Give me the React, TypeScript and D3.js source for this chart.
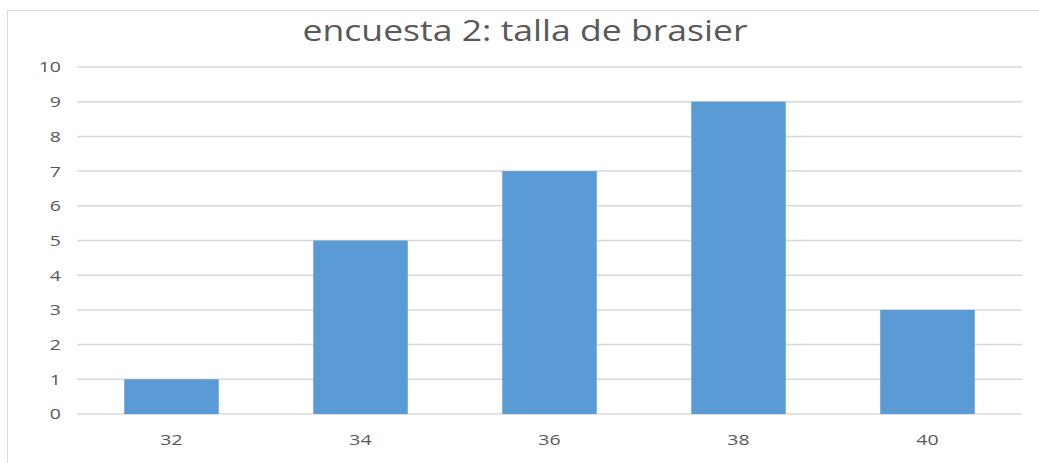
import React from "react";
import * as d3 from "d3";

const categories = ["32", "34", "36", "38", "40"];
const values = [1, 5, 7, 9, 3];
const yTicks = [0, 1, 2, 3, 4, 5, 6, 7, 8, 9, 10];
const title = "encuesta 2: talla de brasier";

export default function App() {
  const W = 1039, H = 463;
  const left = 77, right = 1022, top = 67, bottom = 414;
  const x = d3.scaleBand<string>().domain(categories).range([left, right]).paddingInner(0.5).paddingOuter(0.25);
  const y = d3.scaleLinear().domain([0, 10]).range([bottom, top]);
  const font = "'Open Sans', sans-serif";
  const textColor = "#595959";
  const sx = 1.3;
  return (
    <svg width={W} height={H} style={{ position: "absolute", left: 0, top: 0, background: "#fff" }}>
      <rect x={7.5} y={10.5} width={1100} height={500} fill="#fff" stroke="#d9d9d9" strokeWidth={1} />
      <text x={525} y={41} textAnchor="middle" fontFamily={font} fontSize={29} fill={textColor}
        textLength={445} lengthAdjust="spacingAndGlyphs">{title}</text>
      {yTicks.map((t) => (
        <g key={t}>
          <line x1={left} x2={right} y1={y(t)} y2={y(t)} stroke="#d9d9d9" strokeWidth={1.5} />
          <text transform={`translate(61,${y(t)}) scale(${sx},1)`} dy="0.36em" textAnchor="end"
            fontFamily={font} fontSize={15} fill={textColor}>{t}</text>
        </g>
      ))}
      {categories.map((c, i) => (
        <g key={c}>
          <rect x={x(c)} y={y(values[i])} width={x.bandwidth()} height={y(0) - y(values[i])} fill="#5b9bd5" />
          <text transform={`translate(${(x(c) ?? 0) + x.bandwidth() / 2},445) scale(${sx},1)`} textAnchor="middle"
            fontFamily={font} fontSize={15} fill={textColor}>{c}</text>
        </g>
      ))}
    </svg>
  );
}
